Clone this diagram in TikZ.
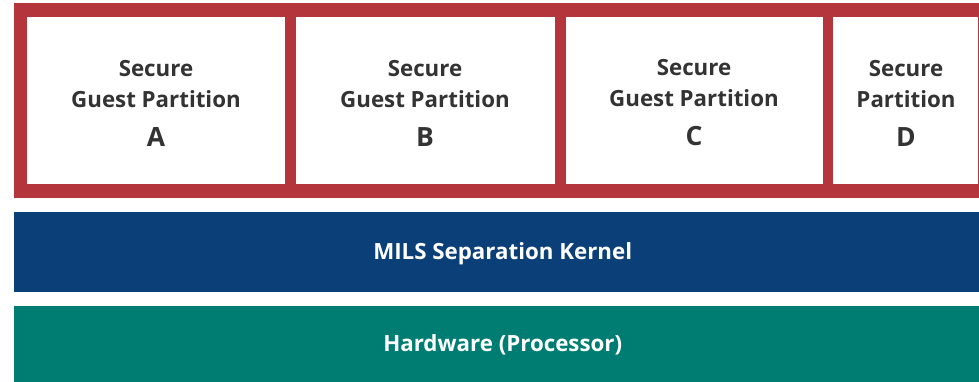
\documentclass[tikz,border=0pt]{standalone}
\usepackage{fontspec}
\setmainfont{Open Sans}
\definecolor{framered}{HTML}{B5353D}
\definecolor{kernelblue}{HTML}{0A3F78}
\definecolor{hwteal}{HTML}{007D72}
\definecolor{textgray}{HTML}{333333}
\begin{document}
\begin{tikzpicture}[x=1pt,y=-1pt,
  frame/.style={fill=framered,draw=none},
  part/.style={fill=white,draw=none,anchor=north west,inner sep=0pt},
  parttext/.style={text=textgray,align=center,inner sep=0pt,font=\bfseries\fontsize{22.3}{31}\selectfont},
  barstyle/.style={draw=none,anchor=north west,inner sep=0pt},
  bartext/.style={text=white,inner sep=0pt,anchor=base,font=\bfseries\fontsize{22.3}{26}\selectfont}]
\useasboundingbox (0,0) rectangle (979,382);
\clip (0,0) rectangle (979,382);
\fill[white] (0,0) rectangle (979,382);
\node[frame,anchor=north west,inner sep=0pt,minimum width=977pt,minimum height=195pt] (frame) at (14,3) {};
\node[part,minimum width=258pt,minimum height=167pt] (A) at (27,17) {};
\node[part,minimum width=259pt,minimum height=167pt] (B) at (296,17) {};
\node[part,minimum width=257pt,minimum height=167pt] (C) at (566,17) {};
\node[part,minimum width=145pt,minimum height=167pt] (D) at (833,17) {};
\node[parttext] (tA) at (156,103) {Secure\\Guest Partition\\[8pt]{\fontsize{26.5}{31}\selectfont A}};
\node[parttext] (tB) at (425,103) {Secure\\Guest Partition\\[8pt]{\fontsize{26.5}{31}\selectfont B}};
\node[parttext] (tC) at (694,103) {Secure\\Guest Partition\\[8pt]{\fontsize{26.5}{31}\selectfont C}};
\node[parttext] (tD) at (906,103) {Secure\\Partition\\[8pt]{\fontsize{26.5}{31}\selectfont D}};
\node[barstyle,fill=kernelblue,minimum width=977pt,minimum height=80pt] (kernel) at (14,212) {};
\node[bartext] (tk) at ([yshift=-7.5pt]kernel.center) {MILS Separation Kernel};
\node[barstyle,fill=hwteal,minimum width=977pt,minimum height=76pt] (hw) at (14,306) {};
\node[bartext] (th) at ([yshift=-7.5pt]hw.center) {Hardware (Processor)};
\end{tikzpicture}
\end{document}
